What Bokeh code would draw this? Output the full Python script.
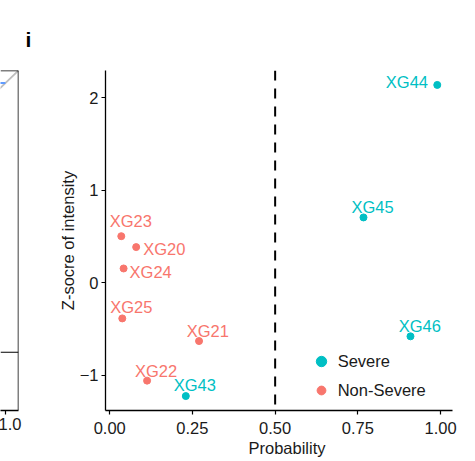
from bokeh.plotting import figure
from bokeh.layouts import row
from bokeh.models import (ColumnDataSource, Span, Legend, LegendItem, Title,
                          FixedTicker, Range1d)
from bokeh.core.properties import value
from bokeh.embed import file_html
from bokeh.resources import INLINE

# ---------------- data ----------------
samples = ["XG23", "XG20", "XG24", "XG25", "XG21", "XG22", "XG43", "XG44", "XG45", "XG46"]
probability = [0.035, 0.080, 0.042, 0.038, 0.270, 0.113, 0.230, 0.990, 0.767, 0.909]
zscore = [0.503, 0.385, 0.154, -0.386, -0.631, -1.059, -1.226, 2.139, 0.706, -0.580]
group = ["Non-Severe", "Non-Severe", "Non-Severe", "Non-Severe", "Non-Severe", "Non-Severe",
         "Severe", "Severe", "Severe", "Severe"]
threshold = 0.5
x_ticks = [0.0, 0.25, 0.5, 0.75, 1.0]
x_tick_labels = ["0.00", "0.25", "0.50", "0.75", "1.00"]
y_ticks = [-1, 0, 1, 2]
y_tick_labels = ["\u22121", "0", "1", "2"]
panel_tag = "i"

# neighbouring panel (ROC) fragment
roc_fpr = [0.0, 0.0, 1.0]
roc_tpr = [0.0, 1.0, 1.0]
chance_x = [-0.05, 1.05]
chance_y = [-0.05, 1.05]
roc_ticks = [0.0, 0.5, 1.0]
roc_visible_tick_label = "1.0"
roc_legend_top = 0.145

# ---------------- style ----------------
FONT = "Liberation Sans"
FS = "16.5px"
colors = {"Severe": "#00BFC4", "Non-Severe": "#F8766D"}
# label placement (ggrepel-like), pixels
label_layout = {
    "XG23": ("center", 9.5, -15), "XG20": ("left", 7, 1.5), "XG24": ("left", 6, 4),
    "XG25": ("center", 9, -11), "XG21": ("center", 8.7, -10), "XG22": ("center", 9, -10),
    "XG43": ("center", 9, -10.6), "XG44": ("right", -9.3, -2.7), "XG45": ("center", 9, -10.4),
    "XG46": ("center", 9.4, -10.3),
}

# ---------------- left fragment ----------------
left = figure(width=25, height=461, x_range=Range1d(0.985, 1.04), y_range=Range1d(-0.04, 1.04),
              output_backend="svg", toolbar_location=None, y_axis_location=None,
              min_border_left=0, min_border_right=7, min_border_top=70, min_border_bottom=51)
left.outline_line_color = None
left.grid.visible = False
left.line(chance_x, chance_y, line_color="#BEBEBE", line_width=1.8)
left.line(roc_fpr, roc_tpr, line_color="#619CFF", line_width=2)
left.add_layout(Span(location=roc_legend_top, dimension="width", line_color="black", line_width=1.2))
left.add_layout(Span(location=1.04, dimension="width", line_color="black", line_width=1.5))
left.add_layout(Span(location=1.04, dimension="height", line_color="black", line_width=1.5))
lax = left.xaxis[0]
lax.ticker = FixedTicker(ticks=roc_ticks)
lax.major_label_overrides = {t: "" for t in roc_ticks}
lax.axis_line_width = 1.5
lax.axis_line_color = "black"
lax.major_tick_in = 0
lax.major_tick_out = 4
lax.major_tick_line_width = 1.2
lax.minor_tick_line_color = None
lax.major_label_standoff = 0
lax.major_label_text_font_size = "1px"
left.add_layout(Title(text=roc_visible_tick_label, align="left", offset=-2, standoff=2,
                      text_font=FONT, text_font_size=FS, text_font_style="normal",
                      text_color="#1A1A1A"), "below")

# ---------------- main panel ----------------
p = figure(width=450, height=461, x_range=Range1d(-0.0127, 1.036), y_range=Range1d(-1.382, 2.295),
           output_backend="svg", toolbar_location=None,
           min_border_left=80, min_border_right=23, min_border_top=68, min_border_bottom=49)
p.outline_line_color = None
p.grid.visible = False

p.add_layout(Span(location=threshold, dimension="height", line_color="black",
                  line_width=2, line_dash="10 8"))

renderers = {}
for g in ["Severe", "Non-Severe"]:
    idx = [i for i, gg in enumerate(group) if gg == g]
    src = ColumnDataSource(dict(x=[probability[i] for i in idx], y=[zscore[i] for i in idx]))
    renderers[g] = p.scatter("x", "y", source=src, size=7, color=colors[g])

for align in ["center", "left", "right"]:
    idx = [i for i, s in enumerate(samples) if label_layout[s][0] == align]
    src = ColumnDataSource(dict(
        x=[probability[i] for i in idx], y=[zscore[i] for i in idx],
        t=[samples[i] for i in idx], c=[colors[group[i]] for i in idx],
        dx=[label_layout[samples[i]][1] for i in idx], dy=[label_layout[samples[i]][2] for i in idx]))
    p.text("x", "y", text="t", source=src, x_offset="dx", y_offset="dy", text_color="c",
           text_align=align, text_baseline="middle", text_font=value(FONT), text_font_size=FS)

for ax, ticks, labels in [(p.xaxis[0], x_ticks, x_tick_labels), (p.yaxis[0], y_ticks, y_tick_labels)]:
    ax.ticker = FixedTicker(ticks=ticks)
    ax.major_label_overrides = dict(zip(ticks, labels))
    ax.axis_line_width = 1.3
    ax.axis_line_color = "black"
    ax.major_tick_in = 0
    ax.major_tick_out = 4
    ax.major_tick_line_width = 1.2
    ax.major_tick_line_color = "black"
    ax.minor_tick_line_color = None
    ax.major_label_text_font = FONT
    ax.major_label_text_font_size = FS
    ax.major_label_text_color = "#1A1A1A"
p.xaxis[0].major_label_standoff = 7
p.yaxis[0].major_label_standoff = 3

p.add_layout(Title(text="Z-socre of intensity", align="center", standoff=0,
                   text_font=FONT, text_font_size=FS, text_font_style="normal",
                   text_color="#1A1A1A"), "left")
p.add_layout(Title(text="Probability", align="left", offset=143, standoff=0,
                   text_font=FONT, text_font_size=FS, text_font_style="normal",
                   text_color="#1A1A1A"), "below")
p.add_layout(Title(text=panel_tag, align="left", offset=-80, standoff=40,
                   text_font=FONT, text_font_size="21px", text_font_style="bold",
                   text_color="black"), "above")

leg1 = Legend(items=[LegendItem(label="Severe", renderers=[renderers["Severe"]])],
              location=(202.7, 36), glyph_width=26, glyph_height=26, label_standoff=4,
              padding=0, margin=0, border_line_color=None, background_fill_alpha=0,
              label_text_font=FONT, label_text_font_size=FS, label_text_color="#1A1A1A")
leg2 = Legend(items=[LegendItem(label="Non-Severe", renderers=[renderers["Non-Severe"]])],
              location=(204.7, 9), glyph_width=22, glyph_height=22, label_standoff=6,
              padding=0, margin=0, border_line_color=None, background_fill_alpha=0,
              label_text_font=FONT, label_text_font_size=FS, label_text_color="#1A1A1A")
p.add_layout(leg1)
p.add_layout(leg2)

layout = row(left, p)
open("out.html", "w").write(file_html(layout, INLINE))
